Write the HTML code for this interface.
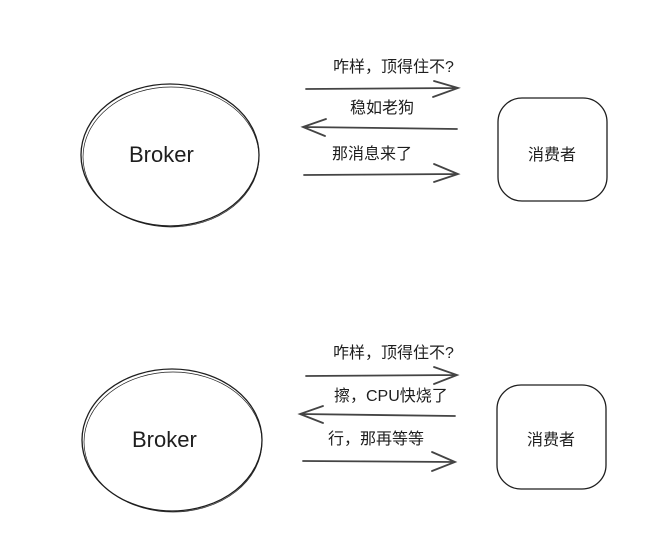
<!DOCTYPE html>
<html><head><meta charset="utf-8"><style>
html,body{margin:0;padding:0;background:#fff;}
svg{display:block}
text{font-family:"Liberation Sans","Noto Sans CJK SC",sans-serif;fill:#1e1e1e}
</style></head><body>
<svg width="651" height="542" viewBox="0 0 651 542" xmlns="http://www.w3.org/2000/svg">
<g fill="none" stroke="#1e1e1e" stroke-width="1.3" stroke-linecap="round">
<ellipse cx="170" cy="155" rx="89" ry="71"/>
<ellipse cx="171" cy="157" rx="88" ry="70" stroke-width="0.7"/>
<rect x="498" y="98" width="109" height="103" rx="24"/>
<ellipse cx="172" cy="440" rx="90" ry="71"/>
<ellipse cx="173" cy="442" rx="89" ry="70" stroke-width="0.7"/>
<rect x="497" y="385" width="109" height="104" rx="24"/>
<g stroke-width="1.8" stroke="#444">
<path d="M306 89 L458 88 M434 81 L458 88 L433 97"/>
<path d="M457 129 L303 127 M326 119 L303 127 L325 136"/>
<path d="M304 175 L458 174 M434 164 L458 174 L434 182"/>
<path d="M306 376 L457 375 M434 367 L457 375 L434 384"/>
<path d="M455 416 L300 414 M323 406 L300 414 L323 423"/>
<path d="M303 461 L455 462 M432 452 L455 462 L432 471"/>
</g>
</g>
<g font-size="16">
<text x="333" y="72">咋样，顶得住不?</text>
<text x="350" y="113">稳如老狗</text>
<text x="332" y="159">那消息来了</text>
<text x="528" y="160">消费者</text>
<text x="333" y="358">咋样，顶得住不?</text>
<text x="334" y="401">擦，CPU快烧了</text>
<text x="328" y="444">行，那再等等</text>
<text x="527" y="445">消费者</text>
</g>
<g font-size="22" font-family="'Liberation Sans',sans-serif">
<text x="129" y="162">Broker</text>
<text x="132" y="447">Broker</text>
</g>
</svg>
</body></html>
